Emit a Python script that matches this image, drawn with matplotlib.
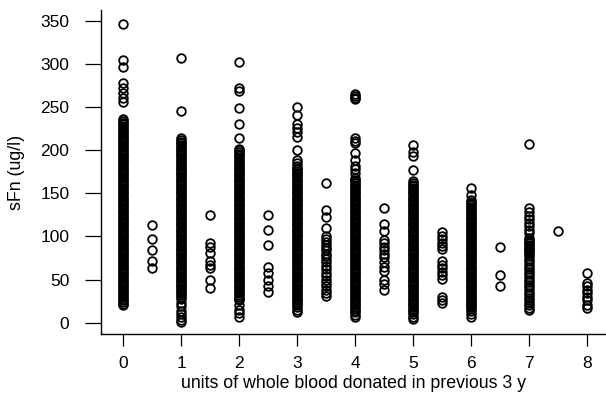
import matplotlib
matplotlib.use('Agg')
from matplotlib import pyplot as plt

plt.rcParams['font.family'] = ['Liberation Sans', 'DejaVu Sans']

# sFn values (ug/l) per number of donated units
units_0 = [347, 305, 297, 278, 272, 266, 261, 256,
           236, 234, 232, 230, 228, 226, 224, 222, 220, 218, 216, 214, 212, 210, 208, 206, 204,
           202, 200, 198, 196, 194, 192, 190, 188, 186, 184, 182, 180, 178, 176, 174, 172, 170,
           168, 166, 164, 162, 160, 158, 156, 154, 152, 150, 148, 146, 144, 142, 140, 138, 136,
           134, 132, 130, 128, 126, 124, 122, 120, 118, 116, 114, 112, 110, 108, 106, 104, 102,
           100, 98, 96, 94, 92, 90, 88, 86, 84, 82, 80, 78, 76, 74, 72, 70, 68, 66, 64, 62, 60,
           58, 56, 54, 52, 50, 48, 46, 44, 42, 40, 38, 36, 34, 32, 30, 28, 26, 24, 22, 20]
units_05 = [113, 97, 84, 71, 63]
units_1 = [307, 246,
           214, 212, 210, 208, 206, 204, 202, 200, 198, 196, 194, 192, 190, 188, 186, 184, 182,
           180, 178, 176, 174, 172, 170, 168, 166, 164, 162, 160, 158, 156, 154, 152, 150, 148,
           146, 144, 142, 140, 138, 136, 134, 132, 130, 128, 126, 124, 122, 120, 118, 116, 114,
           112, 110, 108, 106, 104, 102, 100, 98, 96, 94, 92, 90, 88, 86, 84, 82, 80, 78, 76, 74,
           72, 70, 68, 66, 64, 62, 60, 58, 56, 54, 52, 50, 48, 46, 44, 42, 40, 38, 36, 34, 32, 30,
           27, 23, 19, 14, 10, 6, 3, 1]
units_15 = [125, 92, 88, 81, 71, 67, 63, 50, 40]
units_2 = [303, 272, 269, 249, 231, 214,
           202, 200, 198, 196, 194, 192, 190, 188, 186, 184, 182, 180, 178, 176, 174, 172, 170,
           168, 166, 164, 162, 160, 158, 156, 154, 152, 150, 148, 146, 144, 142, 140, 138, 136,
           134, 132, 130, 128, 126, 124, 122, 120, 118, 116, 114, 112, 110, 108, 106, 104, 102,
           100, 98, 96, 94, 92, 90, 88, 86, 84, 82, 80, 78, 76, 74, 72, 70, 68, 66, 64, 62, 60,
           58, 56, 54, 52, 50, 48, 46, 44, 42, 40, 38, 36, 34, 32, 30, 28, 26,
           20, 15, 11, 7]
units_25 = [125, 108, 90, 65, 58, 50, 42, 36]
units_3 = [250, 241, 230, 226, 221, 216, 200, 189, 185,
           182, 180, 178, 176, 174, 172, 170, 168, 166, 164, 162, 160, 158, 156, 154, 152, 150,
           148, 146, 144, 142, 140, 138, 136, 134, 132, 130, 128, 126, 124, 122, 120, 118, 116,
           114, 112, 110, 108, 106, 104, 102, 100, 98, 96, 94, 92, 90, 88, 86, 84, 82, 80, 78,
           76, 74, 72, 70, 68, 66, 64, 62, 60, 58, 56, 54, 52, 50, 48, 46, 44, 42, 40, 38, 36,
           34, 32, 30, 28, 26, 24, 22, 20, 18,
           15, 12]
units_35 = [162, 131, 123, 110, 100, 97, 94, 90, 87, 84, 80, 77, 74, 70, 66, 62, 58, 54, 50,
            46, 42, 38, 34, 31]
units_4 = [265, 263, 261, 259, 214, 211, 208, 197, 189, 182, 178, 174,
           168, 166, 164, 162, 160, 158, 156, 154, 152, 150, 148, 146, 144, 142, 140, 138, 136,
           134, 132, 130, 128, 126, 124, 122, 120, 118, 116, 114, 112, 110, 108, 106, 104, 102,
           100, 98, 96, 94, 92, 90, 88, 86, 84, 82, 80, 78, 76, 74, 72, 70, 68, 66, 64, 62, 60,
           58, 56, 54, 52, 50, 48, 46, 44, 42, 40, 38, 36, 34, 32, 30, 28, 26, 24, 22, 20, 18,
           16, 14, 12,
           9, 6]
units_45 = [133, 115, 106, 96, 92, 88, 84, 80, 76, 70, 65, 60, 50, 45, 38]
units_5 = [206, 198, 193, 177,
           164, 162, 160, 158, 156, 154, 152, 150, 148, 146, 144, 142, 140, 138, 136, 134, 132,
           130, 128, 126, 124, 122, 120, 118, 116, 114, 112, 110, 108, 106, 104, 102, 100, 98,
           96, 94, 92, 90, 88, 86, 84, 82, 80, 78, 76, 74, 72, 70, 68, 66, 64, 62, 60, 58, 56,
           54, 52, 50, 48, 46, 44, 42, 40, 38, 36, 34, 32, 30, 28, 26, 24, 22, 20, 18, 16, 14,
           12, 10,
           7, 4]
units_55 = [105, 101, 97, 93, 89, 85, 71, 67, 63, 59, 55, 51, 30, 26, 23]
units_6 = [156, 148,
           142, 140, 138, 136, 134, 132, 130, 128, 126, 124, 122, 120, 118, 116, 114, 112, 110,
           108, 106, 104, 102, 100, 98, 96, 94, 92, 90, 88, 86, 84, 82, 80, 78, 76, 74, 72, 70,
           68, 66, 64, 62, 60, 58, 56, 54, 52, 50, 48, 46, 44, 42, 40, 38, 36, 34, 32, 30, 28,
           26, 24, 22, 20, 18, 16, 14,
           10, 7]
units_65 = [88, 55, 43]
units_7 = [207, 133, 128, 124, 120, 116, 112, 108, 104,
           98, 96, 94, 92, 90, 88, 86, 84, 82, 80,
           77, 74, 71, 68, 65, 62, 59, 56, 53, 50, 47, 44, 41, 38, 35, 32, 29, 26, 23, 20, 17, 15]
units_75 = [106]
units_8 = [58, 46, 42, 38, 34, 30, 26, 21, 17]

columns = {0: units_0, 0.5: units_05, 1: units_1, 1.5: units_15, 2: units_2, 2.5: units_25,
           3: units_3, 3.5: units_35, 4: units_4, 4.5: units_45, 5: units_5, 5.5: units_55,
           6: units_6, 6.5: units_65, 7: units_7, 7.5: units_75, 8: units_8}

x_ticks = [0, 1, 2, 3, 4, 5, 6, 7, 8]
y_ticks = [0, 50, 100, 150, 200, 250, 300, 350]

fig = plt.figure(figsize=(6.06, 3.98), dpi=100)
ax = fig.add_axes([100.7 / 606, 1 - 334.3 / 398, 1 - 100.7 / 606, (334.3 - 10) / 398])

for units, vals in columns.items():
    ax.plot([units] * len(vals), vals, linestyle='none', marker='o', ms=6.2,
            mfc='none', mec='black', mew=1.3)

ax.set_xlim(-0.39, 8.32)
ax.set_ylim(-13.5, 362.8)
ax.set_xticks(x_ticks)
ax.set_yticks(y_ticks)
for side in ['top', 'right']:
    ax.spines[side].set_visible(False)
for side in ['left', 'bottom']:
    ax.spines[side].set_linewidth(1.0)
ax.tick_params(axis='x', length=8.6, width=0.9, pad=7, labelsize=12.5)
ax.tick_params(axis='y', length=11.5, width=0.9, pad=11, labelsize=12.5)

ax.set_xlabel('units of whole blood donated in previous 3 y', fontsize=12.8, labelpad=3)
ax.set_ylabel('sFn (ug/l)', fontsize=12.8, labelpad=11)

fig.savefig('out.png', dpi=100)
